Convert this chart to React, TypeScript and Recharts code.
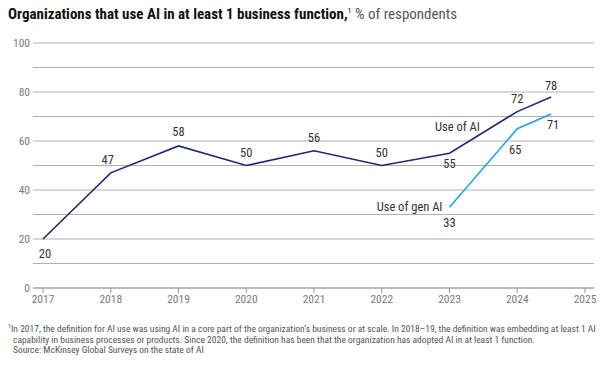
import {
  CartesianGrid,
  LabelList,
  Line,
  LineChart,
  XAxis,
  YAxis,
} from "recharts";

const aiYears = [2017, 2018, 2019, 2020, 2021, 2022, 2023, 2024, 2024.5];
const aiValues = [20, 47, 58, 50, 56, 50, 55, 72, 78];
const genYears = [2023, 2024, 2024.5];
const genValues = [33, 65, 71];
const xTicks = [2017, 2018, 2019, 2020, 2021, 2022, 2023, 2024, 2025];
const yTicks = [0, 10, 20, 30, 40, 50, 60, 70, 80, 90, 100];
const yLabelled = [0, 20, 40, 60, 80, 100];

// label offsets (dx, dy) per point, from the picture
const aiLabelOffsets = [
  [2, 19], [-3, -9], [0, -10], [0, -9], [0, -9], [0, -9], [0, 15], [0, -9], [0, -7],
];
const genLabelOffsets = [[0, 20], [-2, 25], [2, 15]];

const data = aiYears.map((year, i) => {
  const g = genYears.indexOf(year);
  return { year, ai: aiValues[i], gen: g >= 0 ? genValues[g] : null };
});

const font = "'Liberation Sans Narrow', 'Roboto Condensed', 'Liberation Sans', sans-serif";
const navy = "#1c2a78";
const sky = "#1ea5ec";

function makeLabel(offsets: number[][], key: "ai" | "gen") {
  return (props: any) => {
    const { x, y, value, index } = props;
    if (value == null) return null;
    const rows = data.map((d, i) => (d[key] == null ? -1 : i)).filter((i) => i >= 0);
    const pos = key === "ai" ? index : rows.indexOf(index);
    const off = offsets[pos] || [0, -9];
    return (
      <g>
        <text
          x={x + off[0]}
          y={y + off[1]}
          textAnchor="middle"
          fontSize={12.5}
          fill="#333"
          fontFamily={font}
        >
          {value}
        </text>
        {key === "ai" && data[index].year === 2023 && (
          <text x={x + 8} y={y - 22} textAnchor="middle" fontSize={12.5} fill="#333" fontFamily={font}>
            Use of AI
          </text>
        )}
        {key === "gen" && pos === 0 && (
          <text x={x - 7} y={y + 4} textAnchor="end" fontSize={12.5} fill="#333" fontFamily={font}>
            Use of gen AI
          </text>
        )}
      </g>
    );
  };
}

function YTick(props: any) {
  const { x, y, payload } = props;
  if (!yLabelled.includes(payload.value)) return null;
  return (
    <text x={x} y={y} dy={4} textAnchor="end" fontSize={11.5} fill="#7a7a7a" fontFamily={font}>
      {payload.value}
    </text>
  );
}

export default function App() {
  return (
    <div style={{ margin: -8, width: 615, height: 365, overflow: "hidden", fontFamily: font }}>
      <div style={{ height: 0 }}>
        <div style={{ paddingTop: 5, paddingLeft: 8, fontSize: 15, color: "#111", whiteSpace: "nowrap" }}>
          <b>Organizations that use AI in at least 1 business function,</b>
          <sup style={{ fontSize: 8 }}>1</sup>
          <span style={{ color: "#555" }}> % of respondents</span>
        </div>
      </div>
      <LineChart
        width={615}
        height={320}
        data={data}
        margin={{ top: 43, right: 21, bottom: 2, left: 3 }}
      >
        <CartesianGrid vertical={false} stroke="#b0b0b0" />
        <XAxis
          dataKey="year"
          type="number"
          domain={[2017, 2025]}
          ticks={xTicks}
          padding={{ left: 10, right: 9 }}
          axisLine={{ stroke: "#a0a0a0" }}
          tickLine={{ stroke: "#999" }}
          tickSize={5}
          tick={{ fontSize: 11.5, fill: "#7a7a7a", fontFamily: font }}
          tickMargin={2}
        />
        <YAxis
          domain={[0, 100]}
          ticks={yTicks}
          interval={0}
          width={30}
          axisLine={false}
          tickLine={false}
          tickSize={0}
          tickMargin={3}
          tick={<YTick />}
        />
        <Line dataKey="ai" stroke={navy} strokeWidth={1.6} dot={false} isAnimationActive={false}>
          <LabelList dataKey="ai" content={makeLabel(aiLabelOffsets, "ai")} />
        </Line>
        <Line
          dataKey="gen"
          stroke={sky}
          strokeWidth={1.6}
          dot={false}
          connectNulls={false}
          isAnimationActive={false}
        >
          <LabelList dataKey="gen" content={makeLabel(genLabelOffsets, "gen")} />
        </Line>
      </LineChart>
      <div style={{ paddingTop: 1, paddingLeft: 8, fontSize: 9.5, lineHeight: "10.5px", color: "#555", width: 600 }}>
        <div>
          <sup style={{ fontSize: 6 }}>1</sup>In 2017, the definition for AI use was using AI in a core
          part of the organization’s business or at scale. In 2018–19, the definition was embedding at
          least 1 AI
        </div>
        <div style={{ paddingLeft: 5 }}>
          capability in business processes or products. Since 2020, the definition has been that the
          organization has adopted AI in at least 1 function.
        </div>
        <div style={{ paddingLeft: 5 }}>Source: McKinsey Global Surveys on the state of AI</div>
      </div>
    </div>
  );
}
